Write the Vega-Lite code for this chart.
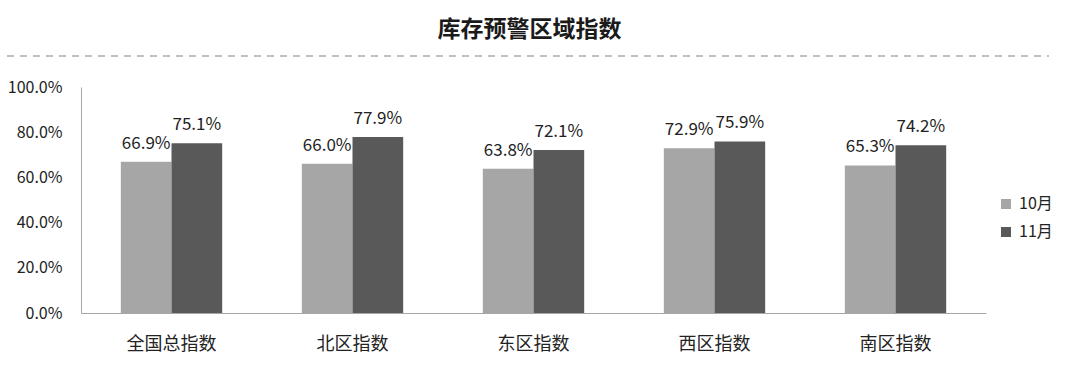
{
  "$schema": "https://vega.github.io/schema/vega-lite/v6.json",
  "padding": {"left": 5, "top": 19, "right": 0, "bottom": 0},
  "config": {
    "font": "Noto Sans CJK SC",
    "view": {"stroke": null},
    "concat": {"spacing": 10}
  },
  "title": {
    "text": "库存预警区域指数",
    "fontSize": 23,
    "fontWeight": "bold",
    "color": "#1a1a1a",
    "anchor": "middle",
    "offset": 1
  },
  "vconcat": [
    {
      "width": 905,
      "height": 26,
      "data": {"values": [{"line": "divider"}]},
      "mark": {"type": "rule", "strokeDash": [7, 6], "color": "#c0c0c0", "strokeWidth": 2},
      "encoding": {
        "x": {"datum": -0.0818, "type": "quantitative", "scale": {"domain": [0, 1]}, "axis": null},
        "x2": {"datum": 1.0696},
        "y": {"datum": 0.5, "type": "quantitative", "scale": {"domain": [0, 1]}, "axis": null}
      }
    },
    {
      "width": 905,
      "height": 226,
      "data": {
        "values": [
          {"region": "全国总指数", "month": "10月", "value": 0.669},
          {"region": "全国总指数", "month": "11月", "value": 0.751},
          {"region": "北区指数", "month": "10月", "value": 0.660},
          {"region": "北区指数", "month": "11月", "value": 0.779},
          {"region": "东区指数", "month": "10月", "value": 0.638},
          {"region": "东区指数", "month": "11月", "value": 0.721},
          {"region": "西区指数", "month": "10月", "value": 0.729},
          {"region": "西区指数", "month": "11月", "value": 0.759},
          {"region": "南区指数", "month": "10月", "value": 0.653},
          {"region": "南区指数", "month": "11月", "value": 0.742}
        ]
      },
      "encoding": {
        "x": {
          "field": "region", "type": "nominal", "sort": null,
          "scale": {"paddingInner": 0.44, "paddingOuter": 0.22},
          "axis": {"title": null, "labelAngle": 0, "labelFontSize": 18, "labelPadding": 22, "ticks": false, "domainColor": "#a6a6a6", "labelColor": "#222"}
        },
        "xOffset": {"field": "month", "type": "nominal", "sort": ["10月", "11月"]},
        "y": {
          "field": "value", "type": "quantitative",
          "scale": {"domain": [0, 1]},
          "axis": {"title": null, "format": ".1%", "values": [0, 0.2, 0.4, 0.6, 0.8, 1], "grid": false, "ticks": false, "labelPadding": 19, "labelFontSize": 16, "labelColor": "#222", "domainColor": "#a6a6a6"}
        }
      },
      "layer": [
        {
          "mark": {"type": "bar"},
          "encoding": {
            "color": {
              "field": "month", "type": "nominal",
              "scale": {"domain": ["10月", "11月"], "range": ["#a6a6a6", "#595959"]},
              "legend": {"title": null, "orient": "none", "legendX": 917, "legendY": 153, "symbolType": "square", "symbolSize": 100, "symbolStrokeWidth": 0, "labelFontSize": 16, "labelColor": "#222", "rowPadding": 12, "labelOffset": 5}
            }
          }
        },
        {
          "mark": {"type": "text", "baseline": "alphabetic", "dy": -13, "fontSize": 17, "color": "#222"},
          "encoding": {"text": {"field": "value", "type": "quantitative", "format": ".1%"}}
        }
      ]
    }
  ]
}
